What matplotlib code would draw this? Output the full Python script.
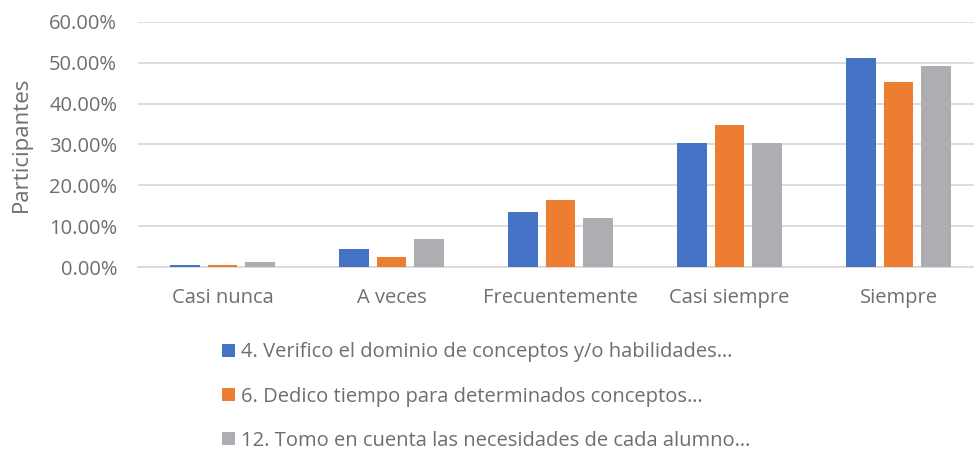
import numpy as np
import matplotlib
matplotlib.use("Agg")
import matplotlib.pyplot as plt
from matplotlib.ticker import FuncFormatter

categories = ["Casi nunca", "A veces", "Frecuentemente", "Casi siempre", "Siempre"]
series_names = [
    "4. Verifico el dominio de conceptos y/o habilidades…",
    "6. Dedico tiempo para determinados conceptos…",
    "12. Tomo en cuenta las necesidades de cada alumno…",
]
verifico = [0.6, 4.4, 13.4, 30.4, 51.1]
dedico = [0.6, 2.5, 16.5, 34.8, 45.3]
tomo = [1.3, 6.9, 11.9, 30.4, 49.1]
colors = ["#4472C4", "#ED7D31", "#ADAEB1"]

plt.rcParams["font.family"] = ["Open Sans", "DejaVu Sans"]
txt = "#6E6E6E"

fig = plt.figure(figsize=(9.74, 4.55), dpi=100)
# plot area runs slightly past the right edge, as in the reference
ax = fig.add_axes([138 / 974, 0.413, 845 / 974, 0.539])

x = np.arange(len(categories))
w = 0.172
step = 0.222
for i, (vals, c) in enumerate(zip([verifico, dedico, tomo], colors)):
    ax.bar(x + (i - 1) * step, vals, width=w, color=c, label=series_names[i], zorder=3)

ax.set_xlim(-0.5, len(categories) - 0.5)
ax.set_ylim(0, 60)
ax.set_yticks(np.arange(0, 61, 10))
ax.yaxis.set_major_formatter(FuncFormatter(lambda v, p: f"{v:.2f}%"))
ax.grid(axis="y", color="#D9D9D9", linewidth=1.3, zorder=0)
ax.set_xticks(x)
ax.set_xticklabels(categories)
for s in ["top", "right", "left"]:
    ax.spines[s].set_visible(False)
ax.spines["bottom"].set_color("#D9D9D9")
ax.spines["bottom"].set_linewidth(1.3)
ax.tick_params(axis="both", length=0, labelsize=14.5, labelcolor=txt)
ax.tick_params(axis="x", pad=15)
ax.tick_params(axis="y", pad=15)
ax.set_ylabel("Participantes", fontsize=16, color=txt, labelpad=12)

fig.legend(loc="upper left", bbox_to_anchor=(0.220, 0.265), frameon=False,
           fontsize=14.5, labelcolor=txt, handlelength=0.65, handleheight=0.65,
           handletextpad=0.3, labelspacing=1.2, borderaxespad=0)

fig.savefig("out.png", dpi=100)
